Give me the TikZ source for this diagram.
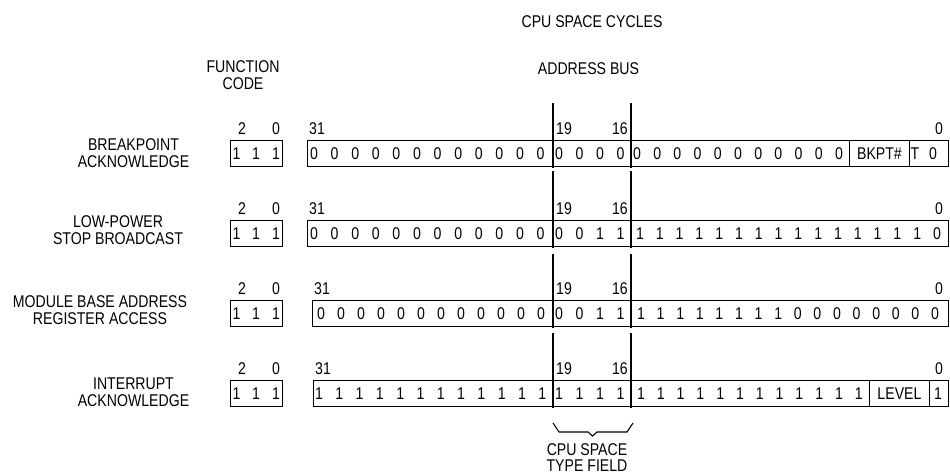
\documentclass[tikz,border=0pt]{standalone}
\usepackage{fontspec}
\setmainfont{Liberation Sans}
\newfontfamily\hv[FakeStretch=0.83]{Liberation Sans}
\begin{document}
\begin{tikzpicture}[x=1pt,y=-1pt,
  txt/.style={font=\hv\fontsize{17}{16.5}\selectfont, inner sep=0pt, align=center},
  dig/.style={font=\hv\fontsize{17}{16.5}\selectfont, inner sep=0pt, anchor=base},
  regbox/.style={draw, line width=1.1pt, inner sep=0pt, anchor=north west, minimum height=26pt},
  cellbox/.style={draw, line width=0.9pt, inner sep=0pt, anchor=north west, minimum height=26pt,
                  font=\hv\fontsize{17}{16.5}\selectfont},
  busline/.style={line width=1.8pt},
  bracel/.style={line width=1.1pt},
]
\useasboundingbox (0,0) rectangle (950,474);

% headers
\node[txt, anchor=base] (title) at (592,27) {CPU SPACE CYCLES};
\node[txt] (fchead) at (243,75) {FUNCTION\\CODE};
\node[txt, anchor=base] (abhead) at (588.5,74.5) {ADDRESS BUS};

% row labels
\node[txt] (lab1) at (133.5,153) {BREAKPOINT\\ACKNOWLEDGE};
\node[txt] (lab2) at (118,230) {LOW-POWER\\STOP BROADCAST};
\node[txt] (lab3) at (100,310) {MODULE BASE ADDRESS\\REGISTER ACCESS};
\node[txt] (lab4) at (133.5,392) {INTERRUPT\\ACKNOWLEDGE};

% common per-row parts
\foreach \r/\T/\L/\bt in {1/140/307/103, 2/220/307/171, 3/300/312/254, 4/380/313/333}{
  % function code box
  \node[regbox, minimum width=52pt] (fc\r) at (230,\T) {};
  \node[dig] (fcd2-\r) at (236.5,\T+19) {1};
  \node[dig] (fcd1-\r) at (256,\T+19) {1};
  \node[dig] (fcd0-\r) at (276,\T+19) {1};
  \node[dig] (fcb2-\r) at (242,\T-5.5) {2};
  \node[dig] (fcb0-\r) at (276,\T-5.5) {0};
  % address box
  \pgfmathsetmacro{\W}{948-\L}
  \node[regbox, minimum width=\W pt] (ad\r) at (\L,\T) {};
  \node[dig, anchor=base west] (b31-\r) at (\L+2,\T-5.5) {31};
  \node[dig, anchor=base west] (b19-\r) at (556,\T-5.5) {19};
  \node[dig, anchor=base east] (b16-\r) at (628,\T-5.5) {16};
  \node[dig] (b0-\r) at (939,\T-5.5) {0};
  % field boundary lines
  \coordinate (ta\r) at (553,\bt);
  \coordinate (ba\r) at (553,\T+28);
  \coordinate (tb\r) at (631,\bt);
  \coordinate (bb\r) at (631,\T+28);
  \draw[busline] (ta\r) -- (ba\r);
  \draw[busline] (tb\r) -- (bb\r);
}

% row 1 : breakpoint acknowledge
\foreach \i in {0,...,11} \node[dig] (r1a\i) at ({314+20.6*\i},159) {0};
\foreach \i in {0,...,3} \node[dig] (r1b\i) at ({559+20.5*\i},159) {0};
\foreach \i in {0,...,10} \node[dig] (r1c\i) at ({637+20.2*\i},159) {0};
\node[cellbox, minimum width=60pt] (bkpt) at (849,140) {BKPT\#};
\node[dig] (r1t) at (915,159) {T};
\node[dig] (r1z) at (933,159) {0};

% row 2 : low-power stop broadcast
\foreach \i in {0,...,11} \node[dig] (r2a\i) at ({314+20.6*\i},239) {0};
\foreach \i/\v in {0/0,1/0,2/1,3/1} \node[dig] (r2b\i) at ({559+20.5*\i},239) {\v};
\foreach \i in {0,...,14} \node[dig] (r2c\i) at ({640+19.8*\i},239) {1};
\node[dig] (r2z) at (937,239) {0};

% row 3 : module base address register access
\foreach \i in {0,...,11} \node[dig] (r3a\i) at ({321+20.0*\i},319) {0};
\foreach \i/\v in {0/0,1/0,2/1,3/1} \node[dig] (r3b\i) at ({559+20.5*\i},319) {\v};
\foreach \i in {0,...,7} \node[dig] (r3c\i) at ({641+19.6*\i},319) {1};
\foreach \i in {8,...,15} \node[dig] (r3c\i) at ({641+19.6*\i},319) {0};

% row 4 : interrupt acknowledge
\foreach \i in {0,...,11} \node[dig] (r4a\i) at ({319+20.3*\i},399) {1};
\foreach \i in {0,...,3} \node[dig] (r4b\i) at ({559+20.5*\i},399) {1};
\foreach \i in {0,...,11} \node[dig] (r4c\i) at ({641+19.8*\i},399) {1};
\node[cellbox, minimum width=60pt] (level) at (869,380) {LEVEL};
\node[dig] (r4z) at (938,399) {1};

% brace under CPU space type field
\coordinate (brl) at (553,423);
\coordinate (brr) at (633,423);
\coordinate (brm) at (592.5,436);
\draw[bracel] (brl) -- (559,432) -- (588,432) -- (brm) -- (597,432) -- (627,432) -- (brr);
\node[txt] (cst) at (587,457.5) {CPU SPACE\\TYPE FIELD};
\end{tikzpicture}
\end{document}
